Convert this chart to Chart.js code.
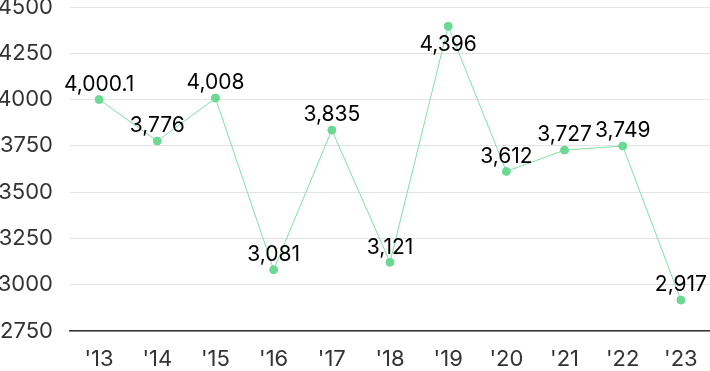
<!DOCTYPE html>
<html>
<head>
<meta charset="utf-8">
<script src="https://cdn.jsdelivr.net/npm/chart.js@4"></script>
<style>
  html, body { margin: 0; padding: 0; background: #fff; }
  #wrap { width: 710px; height: 371px; }
</style>
</head>
<body>
<div id="wrap"><canvas id="myChart"></canvas></div>
<script>
const years = ["'13", "'14", "'15", "'16", "'17", "'18", "'19", "'20", "'21", "'22", "'23"]
const values = [4000.1, 3776, 4008, 3081, 3835, 3121, 4396, 3612, 3727, 3749, 2917]
const yTicks = [2750, 3000, 3250, 3500, 3750, 4000, 4250, 4500]

const lineColor = '#7fe0a4'
const dotColor = '#6cd993'

// draws the number above each point (below when it would hit the top)
const valueLabels = {
  id: 'valueLabels',
  afterDatasetsDraw(chart) {
    const ctx = chart.ctx
    const meta = chart.getDatasetMeta(0)
    ctx.save()
    ctx.font = '21px Inter'
    ctx.fillStyle = '#000'
    ctx.textAlign = 'center'
    ctx.textBaseline = 'middle'
    meta.data.forEach((pt, i) => {
      const txt = values[i].toLocaleString('en-US', { maximumFractionDigits: 1 })
      let y = pt.y - 15
      if (y < chart.chartArea.top + 10) y = pt.y + 18
      ctx.fillText(txt, pt.x, y)
    })
    ctx.restore()
  }
}

new Chart('myChart', {
  type: 'line',
  data: {
    labels: years,
    datasets: [{
      data: values,
      borderColor: lineColor,
      borderWidth: 1,
      pointBackgroundColor: dotColor,
      pointBorderColor: dotColor,
      pointRadius: 4,
      tension: 0,
      clip: false
    }]
  },
  options: {
    responsive: true,
    maintainAspectRatio: false,
    animation: false,
    layout: { autoPadding: false, padding: { top: 7, right: 0, left: 0, bottom: 0 } },
    plugins: { legend: { display: false }, tooltip: { enabled: false } },
    scales: {
      x: {
        offset: true,
        grid: { display: false, drawTicks: false },
        border: { display: true, color: '#333', width: 1.5 },
        ticks: { color: '#333', font: { family: 'Inter', size: 22 }, padding: 15 },
        afterFit: s => { s.paddingLeft = 0; s.paddingRight = 0; s.height = 40 }
      },
      y: {
        min: 2750,
        max: 4500,
        afterBuildTicks: axis => { axis.ticks = yTicks.map(v => ({ value: v })) },
        grid: { color: '#e3e3e3', drawTicks: false },
        border: { display: false },
        ticks: {
          color: '#333',
          font: { family: 'Inter', size: 22 },
          padding: 17,
          callback: v => String(v)
        },
        afterFit: s => { s.paddingTop = 0; s.paddingBottom = 0; s.width = 70 }
      }
    }
  },
  plugins: [valueLabels]
})
</script>
</body>
</html>
